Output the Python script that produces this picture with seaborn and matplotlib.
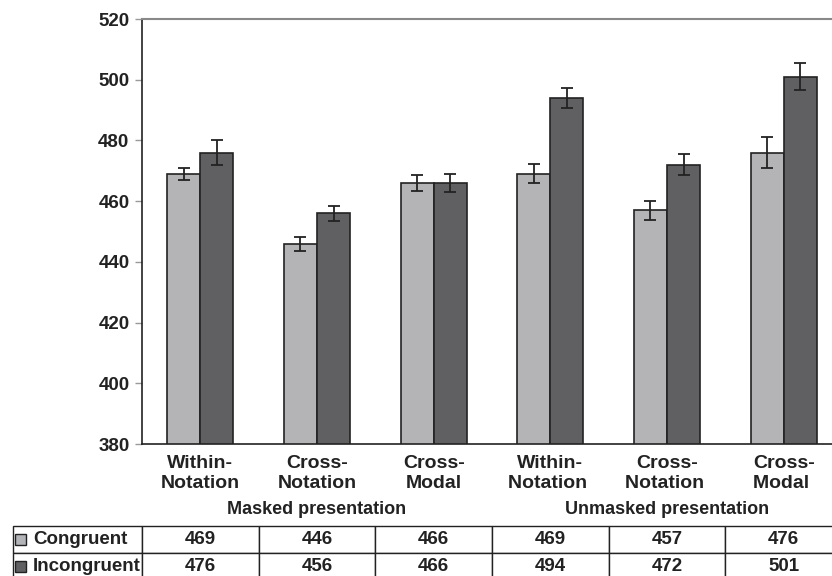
""" reaction times by condition, masked vs unmasked presentation """
import matplotlib
matplotlib.use("Agg")
import matplotlib.pyplot as plt
from matplotlib.patches import Rectangle
import seaborn as sns
import pandas as pd

conditions = ["Within-\nNotation", "Cross-\nNotation", "Cross-\nModal",
              "Within-\nNotation ", "Cross-\nNotation ", "Cross-\nModal "]
congruent = [469, 446, 466, 469, 457, 476]
incongruent = [476, 456, 466, 494, 472, 501]
congruent_err = [1.9, 2.3, 2.6, 3.1, 3.1, 5.2]
incongruent_err = [4.2, 2.5, 2.9, 3.2, 3.5, 4.5]
groups = ["Masked presentation", "Unmasked presentation"]
series = ["Congruent", "Incongruent"]

LIGHT = "#b3b4b8"
DARK = "#606062"
EDGE = "#222222"
TEXT = "#222222"

sns.set_style("white")
plt.rcParams["font.family"] = ["Liberation Sans", "DejaVu Sans"]
plt.rcParams["font.weight"] = "bold"

df = pd.DataFrame({
    "condition": conditions * 2,
    "rt": congruent + incongruent,
    "err": congruent_err + incongruent_err,
    "type": [series[0]] * 6 + [series[1]] * 6,
})

fig = plt.figure(figsize=(8.32, 5.76), dpi=100)
ax = fig.add_axes([142 / 832, 132 / 576, 700 / 832, 425 / 576])

sns.barplot(data=df, x="condition", y="rt", hue="type", order=conditions,
            hue_order=series, palette=[LIGHT, DARK], width=0.566,
            errorbar=None, edgecolor=EDGE, linewidth=1.2, legend=False, ax=ax)

# error bars on top of each bar
for cont, errs in zip(ax.containers, [congruent_err, incongruent_err]):
    for bar, e in zip(cont, errs):
        ax.errorbar(bar.get_x() + bar.get_width() / 2, bar.get_height(), yerr=e,
                    fmt="none", ecolor=EDGE, elinewidth=1.3, capsize=4, capthick=1.3)

ax.set_ylim(380, 520)
ax.set_yticks(range(380, 521, 20))
ax.set_xlim(-0.5, 5.5)
ax.set(xlabel="", ylabel="")
ax.tick_params(axis="y", length=5, width=1, color="#999999", pad=4,
               labelsize=13.5, labelcolor=TEXT, left=True)
ax.tick_params(axis="x", length=0, pad=8, labelsize=14, labelcolor=TEXT)
for lab in ax.get_xticklabels() + ax.get_yticklabels():
    lab.set_fontweight("bold")
    lab.set_linespacing(1.22)

ax.spines["left"].set_color(EDGE)
ax.spines["left"].set_linewidth(1.2)
ax.spines["bottom"].set_color(EDGE)
ax.spines["bottom"].set_linewidth(1.2)
ax.spines["top"].set_color("#888888")
ax.spines["top"].set_linewidth(1.5)
ax.spines["right"].set_visible(False)

# group labels under the categories
ax.text(1, -0.155, groups[0], transform=ax.get_xaxis_transform(), ha="center",
        va="center", fontsize=13, fontweight="bold", color=TEXT)
ax.text(4, -0.155, groups[1], transform=ax.get_xaxis_transform(), ha="center",
        va="center", fontsize=13, fontweight="bold", color=TEXT)

# data table below
cell_text = [[series[0]] + [str(v) for v in congruent],
             [series[1]] + [str(v) for v in incongruent]]
total_w = 829
col_w = [129 / total_w] + [116.67 / total_w] * 6
tbl = ax.table(cellText=cell_text, colWidths=col_w, cellLoc="center",
               bbox=[-129 / 700, -0.32, total_w / 700, 0.127])
tbl.auto_set_font_size(False)
for (r, c), cell in tbl.get_celld().items():
    cell.set_edgecolor(EDGE)
    cell.set_linewidth(1.0)
    cell.get_text().set_fontsize(13.5)
    cell.get_text().set_fontweight("bold")
    cell.get_text().set_color(TEXT)
    if c == 0:
        cell.get_text().set_ha("left")
        cell._loc = "left"
        cell.PAD = 0.155

# legend squares in the row labels
for i, col in enumerate([LIGHT, DARK]):
    yc = -0.193 - 0.0635 * (i + 0.5)
    ax.add_patch(Rectangle((-127 / 700, yc - 5.5 / 425), 11 / 700, 11 / 425,
                           transform=ax.transAxes, facecolor=col, edgecolor=EDGE,
                           linewidth=1.0, clip_on=False))

fig.savefig("out.png", dpi=100)
plt.close(fig)
